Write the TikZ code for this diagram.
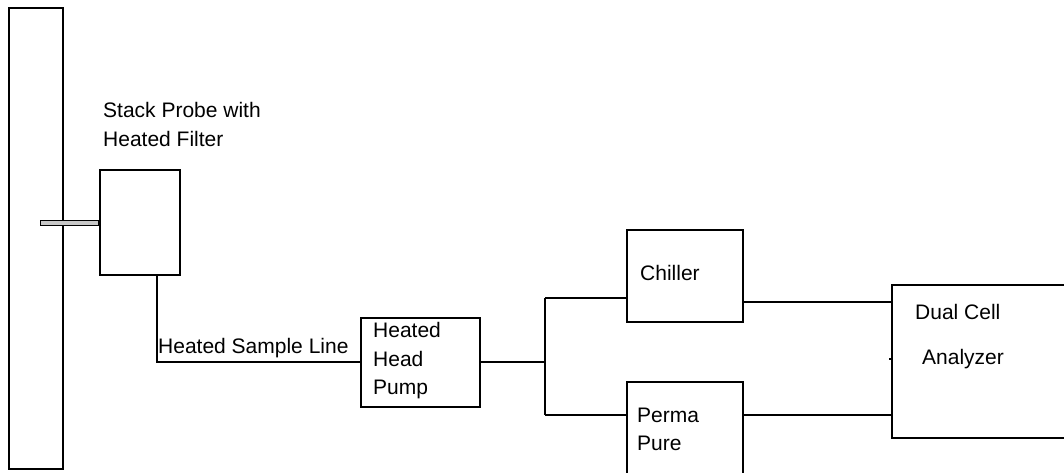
\documentclass[tikz,border=0pt]{standalone}
\usepackage{fontspec}
\setmainfont{Liberation Sans}
\begin{document}
\begin{tikzpicture}[x=1pt,y=-1pt,
  unit/.style={draw, line width=1.5pt, inner sep=0pt, fill=white},
  pipe/.style={line width=1.5pt},
  lbl/.style={anchor=base west, inner sep=0pt, font=\fontsize{21}{24}\selectfont}]
\useasboundingbox (0,0) rectangle (1064,473);
\clip (0,0) rectangle (1064,473);

% stack wall and probe
\node[unit, minimum width=54pt, minimum height=461pt] (stack) at (36,238.5) {};
\node[draw, line width=1pt, fill=black!22, inner sep=0pt,
      minimum width=60pt, minimum height=5pt] (tube) at (70,222.5) {};
\fill (tube.north east) ++(-2.5,0) rectangle (tube.south east);
\node[unit, minimum width=80pt, minimum height=105pt] (filter) at (140,222.5) {};

% process units
\node[unit, minimum width=119pt, minimum height=89pt] (pump) at (420.5,362.5) {};
\node[unit, minimum width=116pt, minimum height=92pt] (chiller) at (685,276) {};
\node[unit, minimum width=116pt, minimum height=118pt] (perma) at (685,441) {};
\node[unit, minimum width=188pt, minimum height=153pt] (analyzer) at (986,361.5) {};

% labels
\node[lbl] (tprobe1) at (103,118) {Stack Probe with};
\node[lbl] (tprobe2) at (103,147) {Heated Filter};
\node[lbl] (tline) at (158,353) {Heated Sample Line};
\node[lbl] (tpump1) at (373,337) {Heated};
\node[lbl] (tpump2) at (373,366) {Head};
\node[lbl] (tpump3) at (373,394) {Pump};
\node[lbl] (tchill) at (640,280) {Chiller};
\node[lbl] (tperma1) at (637,422) {Perma};
\node[lbl] (tperma2) at (637,450) {Pure};
\node[lbl] (tan1) at (915,319) {Dual Cell};
\node[lbl] (tan2) at (922,364) {Analyzer};

% sample line routing
\coordinate (drop) at (157,362);
\coordinate (split) at (545,362);
\coordinate (ctop) at (545,298);
\coordinate (pbot) at (545,415);
\coordinate (cout) at (743,302);
\coordinate (stub) at (889,359);

\draw[pipe] (filter.south -| drop) -- (drop) -- (pump.west |- drop);
\draw[pipe] (pump.east |- split) -- (split);
\draw[pipe] (ctop) -- (pbot);
\draw[pipe] (ctop) -- (chiller.west |- ctop);
\draw[pipe] (pbot) -- (perma.west |- pbot);
\draw[pipe] (cout) -- (analyzer.west |- cout);
\draw[pipe] (perma.east |- pbot) -- (analyzer.west |- pbot);
\draw[pipe] (stub) -- (analyzer.west |- stub);
\end{tikzpicture}
\end{document}
